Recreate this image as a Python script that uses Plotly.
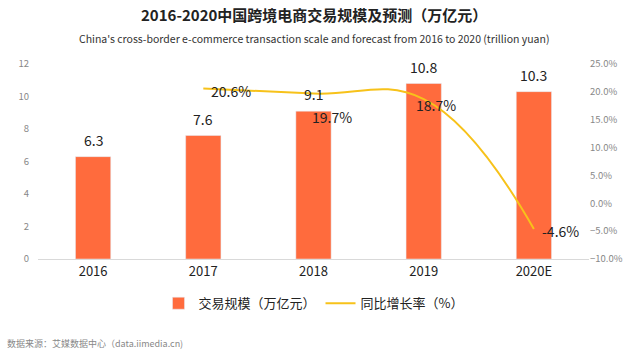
import plotly.graph_objects as go

years = ["2016", "2017", "2018", "2019", "2020E"]
scale = [6.3, 7.6, 9.1, 10.8, 10.3]
growth_years = ["2017", "2018", "2019", "2020E"]
growth = [20.6, 19.7, 18.7, -4.6]

# label offsets (px) for growth-rate labels, style only
pct_shift = [(6, -2), (-4, -23), (-10, -6), (6, -2)]

FONT = "Noto Sans CJK SC"
BAR = "#FF6B3D"
LINE = "#F7C21A"

fig = go.Figure()
fig.add_trace(go.Bar(
    x=years, y=scale, name="交易规模（万亿元）",
    marker=dict(color=BAR), width=0.32,
))
fig.add_trace(go.Scatter(
    x=growth_years, y=growth, name="同比增长率（%）", yaxis="y2",
    mode="lines", line=dict(color=LINE, width=2, shape="spline", smoothing=1.2),
))

annotations = []
for i, v in enumerate(scale):
    annotations.append(dict(x=i, y=v, xref="x", yref="y", text=f"{v}",
                            showarrow=False, yanchor="middle", yshift=17,
                            font=dict(family=FONT, size=14, color="#222")))
for j, (g, (dx, dy)) in enumerate(zip(growth, pct_shift)):
    idx = years.index(growth_years[j])
    annotations.append(dict(x=idx, y=g, xref="x", yref="y2", text=f"{g:.1f}%",
                            showarrow=False, xanchor="left", yanchor="middle",
                            xshift=dx, yshift=dy,
                            font=dict(family=FONT, size=14, color="#222")))
annotations.append(dict(xref="paper", yref="paper", x=0.5, y=1,
                        yshift=50, text="<b>2016-2020中国跨境电商交易规模及预测（万亿元）</b>",
                        showarrow=False, xanchor="center", yanchor="middle",
                        font=dict(family=FONT, size=15, color="#222")))
annotations.append(dict(xref="paper", yref="paper", x=0.5, y=1,
                        yshift=26,
                        text="China's cross-border e-commerce transaction scale and forecast from 2016 to 2020 (trillion yuan)",
                        showarrow=False, xanchor="center", yanchor="middle",
                        font=dict(family=FONT, size=10.5, color="#333")))
annotations.append(dict(xref="paper", yref="paper", x=0, y=0, xshift=-33, yshift=-84,
                        text="数据来源：艾媒数据中心（data.iimedia.cn)",
                        showarrow=False, xanchor="left", yanchor="middle",
                        font=dict(family=FONT, size=9, color="#888")))

fig.update_layout(
    width=640, height=351,
    margin=dict(l=38, r=51, t=64, b=92),
    paper_bgcolor="white", plot_bgcolor="white",
    font=dict(family=FONT, color="#333"),
    showlegend=True,
    legend=dict(orientation="h", x=0.5, xanchor="center", y=-0.15, yanchor="top",
                font=dict(family=FONT, size=13, color="#222"),
                itemwidth=30, tracegroupgap=0),
    xaxis=dict(type="category", range=[-0.5, 4.5], showline=True, linecolor="#d9d9d9", linewidth=1,
               ticks="", tickfont=dict(family=FONT, size=13, color="#222"),
               showgrid=False),
    yaxis=dict(range=[0, 12], dtick=2, showgrid=False, zeroline=False,
               ticklabelstandoff=8,
               tickfont=dict(family=FONT, size=9.5, color="#888")),
    yaxis2=dict(range=[-10, 25], dtick=5, overlaying="y", side="right",
                showgrid=False, zeroline=False, tickformat=".1f", ticksuffix="%",
                tickfont=dict(family=FONT, size=9.5, color="#888")),
    annotations=annotations,
)

fig.write_html("out.html")
